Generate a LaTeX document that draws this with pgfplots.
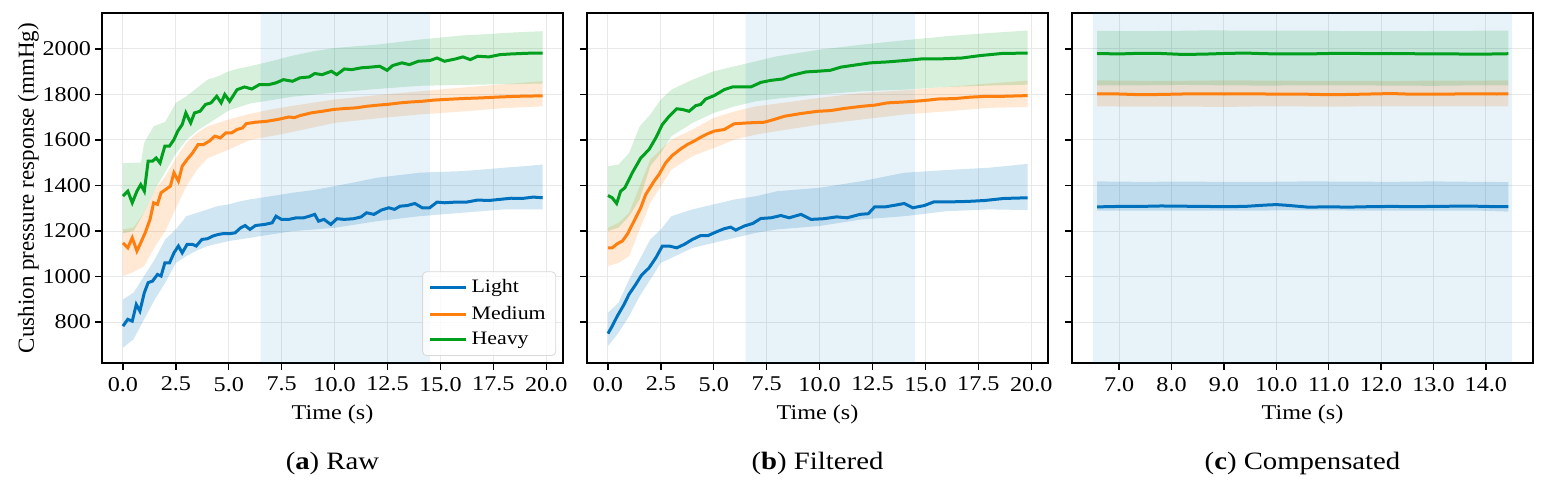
\documentclass[border=0pt]{standalone}
\usepackage{pgfplots}
\pgfplotsset{compat=1.18}
\usepgfplotslibrary{fillbetween}
\usepackage{fontspec}
\setmainfont{Liberation Serif}[FakeStretch=1.15]
\newfontfamily\ylfont{Liberation Serif}
\definecolor{cblue}{RGB}{0,114,189}
\definecolor{corange}{RGB}{255,127,14}
\definecolor{cgreen}{RGB}{0,160,30}
\pgfplotsset{
  myax/.style={
    scale only axis, width=230.5pt, height=175pt,
    ymin=620, ymax=2158,
    ytick={800,1000,1200,1400,1600,1800,2000},
    /pgf/number format/assume math mode=true,
    /pgf/number format/1000 sep={},
    tick label style={font=\fontsize{10.5}{12}\selectfont},
    label style={font=\fontsize{10.5}{13}\selectfont},
    xlabel={Time (s)},
    grid=major, grid style={gray!18, line width=0.5pt},
    axis line style={black, line width=0.8pt},
    tick style={black, line width=0.7pt},
    major tick length=3.5pt, tick align=outside,
    xtick pos=left, ytick pos=left,
    x tick label style={/pgf/number format/.cd, fixed, fixed zerofill, precision=1},
  },
  line/.style={line width=1.5pt},
  band/.style={draw=none, forget plot},
  span/.style={draw=none, fill=cblue, fill opacity=0.09, forget plot},
}
\begin{document}
\begin{tikzpicture}
% ---------------- (a) Raw ----------------
\begin{axis}[myax, at={(0pt,0pt)}, anchor=south west,
  xmin=-0.99, xmax=20.79, xtick={0,2.5,...,20},
  ylabel={Cushion pressure response (mmHg)},
  ylabel style={font=\ylfont\fontsize{11.5}{13}\selectfont},
  ylabel shift=-5pt,
  y tick label style={xshift=1.5pt},
  legend style={at={(rel axis cs:0.985,0.02)}, anchor=south east,
    font=\fontsize{9.5}{11.5}\selectfont, draw=gray!30, rounded corners=2pt,
    fill=white, fill opacity=0.8, text opacity=1, row sep=1pt,
    inner xsep=3pt, inner ysep=2pt},
  legend cell align=left,
  legend image code/.code={\draw[#1] (0pt,0pt) -- (18pt,0pt);},
]
\addplot[span] coordinates {(6.5,500) (6.5,2300) (14.5,2300) (14.5,500) (6.5,500)};
% blue band
\addplot[band, name path=aBU] coordinates {(0,899)(0.5,929)(1,1002)(1.5,1075)(2,1163)(2.5,1207)(3,1265)(3.5,1280)(4,1295)(4.5,1310)(5,1317)(5.5,1330)(6,1339)(7,1353)(8,1368)(9,1380)(10,1397)(11,1415)(12,1434)(13,1445)(14,1456)(15,1460)(16,1463)(17,1470)(18,1478)(19,1485)(19.83,1492)};
\addplot[band, name path=aBL] coordinates {(0,687)(0.5,724)(1,812)(1.5,899)(2,973)(2.5,1060)(3,1090)(3.5,1115)(4,1134)(5,1156)(6,1170)(7,1185)(8,1199)(10,1214)(12,1243)(14,1265)(16,1280)(18,1295)(19.83,1295)};
\addplot[fill=cblue, fill opacity=0.18, forget plot] fill between[of=aBU and aBL];
% orange band
\addplot[band, name path=aOU] coordinates {(0,1207)(0.5,1215)(1,1280)(1.5,1380)(2,1440)(2.5,1520)(3,1587)(3.5,1630)(4,1660)(5,1690)(6,1715)(7,1734)(8,1750)(10,1778)(12,1797)(14,1814)(16,1830)(18,1845)(19.83,1858)};
\addplot[band, name path=aOL] coordinates {(0,1002)(0.5,1020)(1,1046)(1.5,1130)(2,1200)(2.5,1300)(3,1397)(3.5,1470)(4,1520)(5,1558)(6,1600)(7,1617)(8,1635)(10,1675)(12,1695)(14,1712)(16,1725)(18,1740)(19.83,1748)};
\addplot[fill=corange, fill opacity=0.18, forget plot] fill between[of=aOU and aOL];
% green band
\addplot[band, name path=aGU] coordinates {(0,1499)(0.5,1500)(0.85,1500)(1,1587)(1.45,1660)(2,1680)(2.5,1763)(3,1792)(3.5,1829)(4,1865)(4.5,1880)(5,1902)(5.5,1915)(6,1924)(7,1946)(8,1970)(9,1990)(10,2004)(11,2012)(12,2019)(13,2030)(14,2041)(15,2050)(16,2059)(17,2064)(18,2070)(19,2075)(19.83,2078)};
\addplot[band, name path=aGL] coordinates {(0,1190)(0.5,1200)(1,1280)(1.5,1380)(2,1460)(2.5,1540)(3,1600)(3.5,1640)(4,1670)(5,1730)(6,1760)(7,1775)(8,1790)(10,1808)(12,1824)(14,1838)(16,1842)(18,1845)(19.83,1848)};
\addplot[fill=cgreen, fill opacity=0.16, forget plot] fill between[of=aGU and aGL];
% lines
\addplot[line, cblue] coordinates {(0,782)(0.23,812)(0.44,804)(0.63,877)(0.80,848)(1.01,929)(1.19,973)(1.40,980)(1.63,1009)(1.80,1002)(1.98,1060)(2.20,1060)(2.41,1104)(2.62,1134)(2.80,1104)(3.03,1141)(3.29,1141)(3.46,1134)(3.73,1163)(3.99,1166)(4.25,1178)(4.51,1185)(4.78,1189)(5.04,1188)(5.30,1192)(5.56,1214)(5.77,1224)(6.00,1207)(6.26,1224)(6.70,1229)(7.05,1236)(7.23,1265)(7.49,1251)(7.84,1251)(8.19,1258)(8.54,1258)(8.80,1265)(9.06,1273)(9.24,1243)(9.50,1251)(9.82,1229)(10.11,1254)(10.46,1251)(10.90,1254)(11.25,1262)(11.51,1280)(11.86,1273)(12.21,1292)(12.56,1302)(12.83,1295)(13.09,1309)(13.44,1312)(13.79,1321)(14.14,1302)(14.49,1302)(14.84,1327)(15.19,1324)(15.71,1327)(16.24,1327)(16.76,1336)(17.29,1334)(17.81,1339)(18.34,1344)(18.86,1343)(19.39,1349)(19.83,1346)};
\addlegendentry{Light}
\addplot[line, corange] coordinates {(0,1148)(0.23,1126)(0.44,1170)(0.66,1112)(0.84,1148)(1.05,1192)(1.28,1251)(1.45,1324)(1.63,1317)(1.80,1368)(2.01,1382)(2.24,1397)(2.41,1456)(2.62,1419)(2.80,1485)(3.03,1514)(3.29,1543)(3.55,1580)(3.81,1580)(4.08,1595)(4.34,1617)(4.60,1609)(4.86,1631)(5.13,1631)(5.39,1646)(5.65,1653)(5.83,1672)(6.26,1678)(6.79,1682)(7.31,1690)(7.84,1701)(8.10,1698)(8.36,1707)(8.89,1719)(9.41,1726)(9.94,1734)(10.46,1738)(10.99,1741)(11.51,1748)(12.04,1753)(12.56,1757)(13.09,1763)(13.61,1767)(14.14,1770)(14.66,1775)(15.19,1778)(16.06,1782)(16.94,1785)(17.81,1789)(18.69,1792)(19.83,1794)};
\addlegendentry{Medium}
\addplot[line, cgreen] coordinates {(0,1353)(0.23,1375)(0.44,1324)(0.66,1375)(0.84,1404)(1.01,1375)(1.19,1507)(1.40,1507)(1.57,1521)(1.75,1499)(1.98,1573)(2.2,1573)(2.41,1602)(2.59,1639)(2.8,1668)(2.97,1719)(3.2,1675)(3.38,1719)(3.64,1726)(3.9,1756)(4.16,1763)(4.43,1792)(4.64,1763)(4.81,1800)(5.04,1770)(5.39,1821)(5.74,1833)(6.09,1824)(6.44,1843)(6.88,1843)(7.23,1851)(7.58,1865)(8.01,1858)(8.36,1873)(8.8,1877)(9.06,1892)(9.41,1887)(9.85,1902)(10.1,1887)(10.46,1912)(10.81,1909)(11.25,1917)(11.69,1920)(12.13,1924)(12.48,1906)(12.74,1927)(13.18,1939)(13.53,1931)(13.96,1946)(14.49,1949)(14.84,1960)(15.19,1946)(15.71,1956)(16.06,1965)(16.41,1953)(16.76,1968)(17.29,1965)(17.81,1975)(18.34,1978)(18.86,1980)(19.39,1982)(19.83,1982)};
\addlegendentry{Heavy}
\end{axis}
% ---------------- (b) Filtered ----------------
\begin{axis}[myax, at={(242.5pt,0pt)}, anchor=south west,
  xmin=-0.99, xmax=20.79, xtick={0,2.5,...,20}, yticklabel={\mbox{}}]
\addplot[span] coordinates {(6.5,500) (6.5,2300) (14.5,2300) (14.5,500) (6.5,500)};
\addplot[band, name path=bBU] coordinates {(0,841)(0.5,885)(1,987)(1.5,1075)(2,1163)(2.5,1207)(3,1265)(4,1295)(5,1317)(6,1339)(7,1353)(8,1375)(10,1390)(12,1419)(14,1456)(16,1468)(18,1478)(19.83,1495)};
\addplot[band, name path=bBL] coordinates {(0,694)(0.5,753)(1,826)(1.5,914)(2,987)(2.5,1060)(3,1082)(4,1126)(5,1148)(6,1170)(7,1192)(8,1207)(10,1222)(12,1251)(14,1265)(16,1287)(18,1295)(19.83,1292)};
\addplot[fill=cblue, fill opacity=0.18, forget plot] fill between[of=bBU and bBL];
\addplot[band, name path=bOU] coordinates {(0,1214)(0.5,1236)(1,1280)(1.5,1397)(2,1514)(2.5,1558)(3,1602)(4,1646)(5,1697)(6,1726)(7,1748)(8,1760)(10,1785)(12,1807)(14,1818)(16,1833)(18,1848)(19.83,1861)};
\addplot[band, name path=bOL] coordinates {(0,1046)(0.5,1060)(1,1090)(1.5,1207)(2,1324)(2.5,1397)(3,1470)(4,1529)(5,1565)(6,1602)(7,1624)(8,1639)(10,1668)(12,1690)(14,1712)(16,1726)(18,1741)(19.83,1745)};
\addplot[fill=corange, fill opacity=0.18, forget plot] fill between[of=bOU and bOL];
\addplot[band, name path=bGU] coordinates {(0,1485)(0.5,1492)(1,1543)(1.5,1660)(2,1712)(2.5,1778)(3,1821)(4,1865)(5,1902)(6,1924)(7,1946)(8,1968)(10,1997)(12,2019)(14,2038)(16,2056)(18,2070)(19.83,2081)};
\addplot[band, name path=bGL] coordinates {(0,1200)(0.5,1215)(1,1265)(1.5,1339)(2,1485)(2.5,1543)(3,1617)(4,1675)(5,1719)(6,1748)(7,1770)(8,1782)(10,1800)(12,1814)(14,1821)(16,1833)(18,1839)(19.83,1843)};
\addplot[fill=cgreen, fill opacity=0.16, forget plot] fill between[of=bGU and bGL];
\addplot[line, cblue] coordinates {(0,749)(0.2,782)(0.44,826)(0.76,877)(0.99,921)(1.31,965)(1.58,1005)(1.94,1038)(2.26,1082)(2.57,1134)(2.89,1134)(3.25,1126)(3.6,1141)(3.99,1163)(4.38,1180)(4.73,1180)(5.09,1195)(5.49,1210)(5.8,1217)(6.04,1204)(6.44,1222)(6.84,1233)(7.22,1255)(7.7,1258)(8.17,1268)(8.56,1258)(9.12,1273)(9.59,1251)(10.2,1254)(10.8,1262)(11.3,1258)(11.9,1273)(12.3,1276)(12.6,1306)(13.1,1306)(13.6,1314)(14,1321)(14.4,1302)(14.95,1312)(15.4,1328)(16.2,1328)(17,1330)(17.8,1334)(18.7,1343)(19.83,1346)};
\addplot[line, corange] coordinates {(0,1126)(0.2,1126)(0.44,1144)(0.68,1156)(0.91,1185)(1.23,1243)(1.55,1302)(1.78,1360)(2.18,1419)(2.41,1448)(2.73,1500)(3.04,1532)(3.44,1561)(3.75,1580)(4.07,1595)(4.38,1612)(4.7,1627)(5.02,1639)(5.49,1646)(5.96,1671)(6.59,1675)(7.38,1678)(7.85,1690)(8.33,1704)(9.1,1716)(9.9,1726)(10.5,1729)(11.2,1739)(12,1748)(12.6,1753)(13.2,1763)(14,1767)(14.9,1773)(15.6,1780)(16.4,1782)(17.1,1788)(17.9,1792)(18.7,1792)(19.83,1795)};
\addplot[line, cgreen] coordinates {(0,1356)(0.2,1346)(0.41,1321)(0.6,1375)(0.8,1390)(1.15,1456)(1.55,1521)(1.94,1558)(2.26,1609)(2.57,1668)(2.89,1704)(3.25,1737)(3.52,1734)(3.83,1726)(4.15,1751)(4.38,1756)(4.62,1780)(5.02,1795)(5.49,1821)(5.88,1833)(6.75,1833)(7.22,1853)(7.7,1862)(8.25,1868)(8.64,1883)(9.35,1899)(9.9,1902)(10.5,1906)(11.0,1920)(11.8,1931)(12.4,1939)(13.2,1943)(14,1949)(14.8,1956)(15.6,1956)(16.7,1960)(17.6,1971)(18.6,1980)(19.83,1982)};
\end{axis}
% ---------------- (c) Compensated ----------------
\begin{axis}[myax, at={(485pt,0pt)}, anchor=south west,
  xmin=6.1, xmax=14.9, xtick={7,8,...,14}, yticklabel={\mbox{}}]
\addplot[span] coordinates {(6.5,500) (6.5,2300) (14.5,2300) (14.5,500) (6.5,500)};
\addplot[band, name path=cBU] coordinates {(6.58,1418)(7.4,1416)(8.2,1417)(9.0,1416)(9.8,1416)(10.6,1418)(11.4,1417)(12.2,1416)(13.0,1418)(13.8,1416)(14.43,1415)};
\addplot[band, name path=cBL] coordinates {(6.58,1290)(7.4,1290)(8.2,1289)(9.0,1289)(9.8,1290)(10.6,1291)(11.4,1290)(12.2,1290)(13.0,1289)(13.8,1290)(14.43,1285)};
\addplot[fill=cblue, fill opacity=0.18, forget plot] fill between[of=cBU and cBL];
\addplot[band, name path=cOU] coordinates {(6.58,1862)(7.4,1860)(8.2,1860)(9.0,1862)(9.8,1861)(10.6,1860)(11.4,1860)(12.2,1859)(13.0,1861)(13.8,1861)(14.43,1862)};
\addplot[band, name path=cOL] coordinates {(6.58,1748)(7.4,1746)(8.2,1747)(9.0,1745)(9.8,1748)(10.6,1747)(11.4,1747)(12.2,1748)(13.0,1748)(13.8,1748)(14.43,1748)};
\addplot[fill=corange, fill opacity=0.18, forget plot] fill between[of=cOU and cOL];
\addplot[band, name path=cGU] coordinates {(6.58,2080)(7.4,2078)(8.2,2080)(8.8,2082)(9.4,2080)(10.2,2080)(11.0,2080)(11.4,2078)(12.2,2078)(13.0,2079)(13.8,2080)(14.43,2080)};
\addplot[band, name path=cGL] coordinates {(6.58,1840)(7.4,1840)(8.2,1842)(9.0,1840)(9.8,1839)(10.6,1840)(11.4,1840)(12.2,1839)(13.0,1838)(13.8,1840)(14.43,1840)};
\addplot[fill=cgreen, fill opacity=0.16, forget plot] fill between[of=cGU and cGL];
\addplot[line, cblue] coordinates {(6.58,1306)(7.0,1308)(7.4,1308)(7.8,1310)(8.2,1309)(8.6,1308)(9.0,1307)(9.4,1308)(9.8,1314)(10.0,1316)(10.2,1313)(10.6,1305)(11.0,1306)(11.4,1305)(11.8,1307)(12.2,1308)(12.6,1307)(13.0,1308)(13.4,1309)(13.8,1309)(14.2,1307)(14.43,1307)};
\addplot[line, corange] coordinates {(6.58,1803)(7.0,1802)(7.4,1799)(7.8,1800)(8.2,1802)(8.6,1803)(9.0,1802)(9.4,1803)(9.8,1802)(10.2,1801)(10.6,1801)(11.0,1799)(11.4,1800)(11.8,1802)(12.2,1804)(12.6,1801)(13.0,1801)(13.4,1802)(13.8,1803)(14.2,1802)(14.43,1803)};
\addplot[line, cgreen] coordinates {(6.58,1980)(7.0,1978)(7.4,1981)(7.8,1980)(8.2,1976)(8.6,1977)(9.0,1980)(9.4,1982)(9.8,1979)(10.2,1978)(10.6,1978)(11.0,1980)(11.4,1981)(11.8,1979)(12.2,1980)(12.6,1979)(13.0,1978)(13.4,1978)(13.8,1977)(14.2,1978)(14.43,1979)};
\end{axis}
% captions
\node[font=\fontsize{12.5}{14}\selectfont] at (115.25pt,-50pt) {(\textbf{a}) Raw};
\node[font=\fontsize{12.5}{14}\selectfont] at (357.75pt,-50pt) {(\textbf{b}) Filtered};
\node[font=\fontsize{12.5}{14}\selectfont] at (600.25pt,-50pt) {(\textbf{c}) Compensated};
\pgfresetboundingbox
\path[use as bounding box] (-51pt,-63.5pt) rectangle (721.5pt,181.5pt);
\end{tikzpicture}
\end{document}
